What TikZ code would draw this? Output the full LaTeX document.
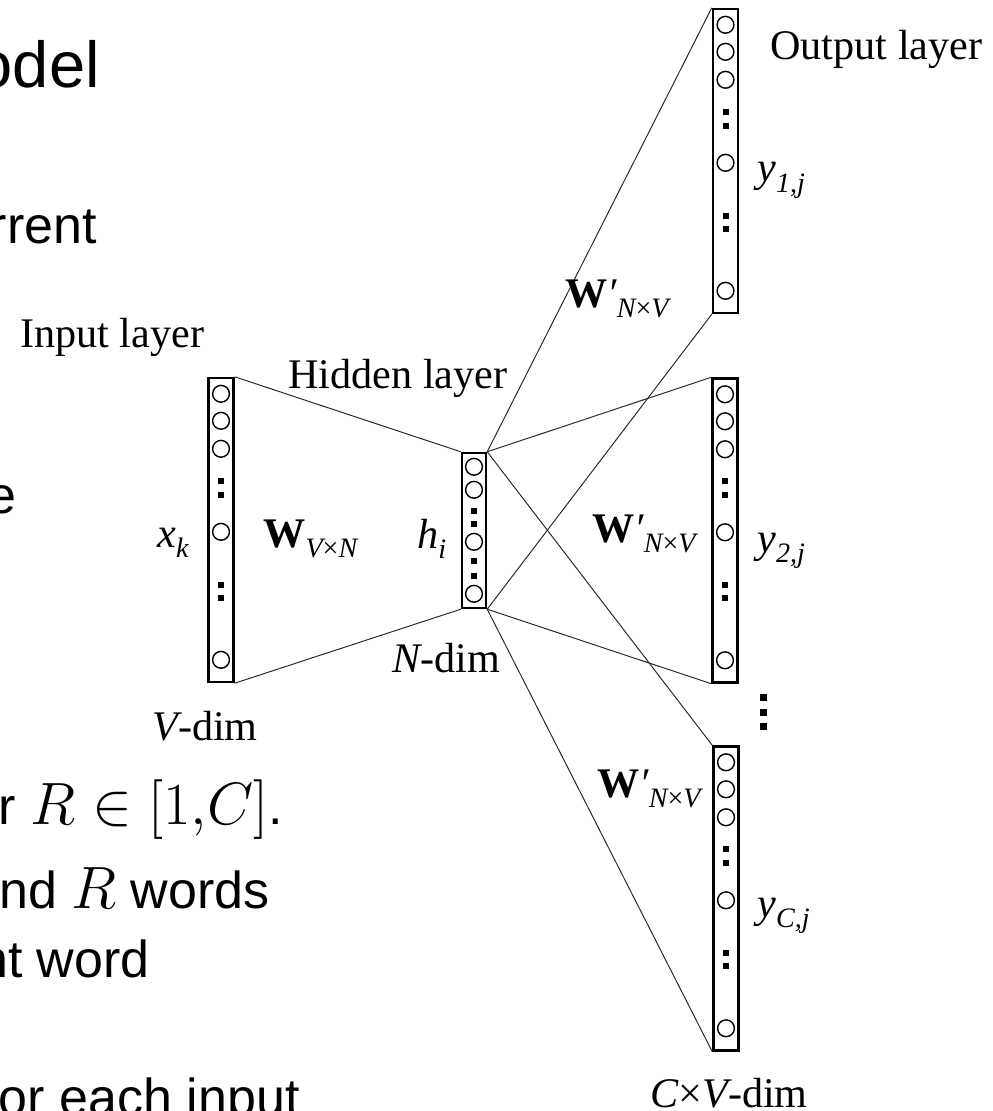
\documentclass[tikz,border=0pt]{standalone}
\usepackage{fix-cm}
\usepackage{fontspec}
\usetikzlibrary{calc}
\newfontfamily\tms{Liberation Serif}
\newfontfamily\arl{Liberation Sans}
\newcommand{\lsub}[1]{\raisebox{-6pt}{\fontsize{16}{18}\selectfont\mdseries\itshape #1}}
\newcommand{\slidemath}[1]{{\fontsize{34}{38}\selectfont$#1$}}

\begin{document}
\begin{tikzpicture}[x=0.02cm,y=-0.02cm,
  layer/.style={draw,line width=1.4pt,inner sep=0,minimum width=0.5cm,minimum height=6.08cm},
  hidden/.style={layer,minimum width=0.48cm,minimum height=3.1cm},
  wire/.style={line width=0.55pt,black!85},
  unit/.style={line width=0.8pt},
  lbl/.style={font=\tms\fontsize{24}{28}\selectfont,inner sep=0,anchor=base west},
  slide/.style={font=\arl\fontsize{29.6}{34}\selectfont,inner sep=0,anchor=base east}]
  \useasboundingbox (0,0) rectangle (992,1111);
  \clip (0,0) rectangle (992,1111);

  % slide text cut off on the left
  \node[slide,font=\arl\fontsize{37}{42}\selectfont] (s1) at (100,88) {odel};
  \node[slide] (s2) at (97,244) {rrent};
  \node[slide] (s3) at (17,513) {e};
  \node[slide] (s4) at (283,824) {r \slidemath{R\in[1{,}C]}.};
  \node[slide] (s5) at (270,908) {nd \slidemath{R} words};
  \node[slide] (s6) at (150,977) {nt word};
  \node[slide] (s7) at (300,1115) {or each input};

  % layers
  \node[layer] (inl) at (221,530) {};
  \node[hidden] (hid) at (474,530.5) {};
  \node[layer] (outa) at (725.5,161) {};
  \node[layer] (outb) at (725,530.5) {};
  \node[layer] (outc) at (726,898.5) {};

  \foreach \n in {inl,outa,outb,outc} {
    \foreach \dy in {17,44,72,155,283}
      \draw[unit] ($(\n.north)+(0,\dy)$) circle [radius=0.168cm];
    \foreach \dy in {104,118,208,221}
      \fill ($(\n.north)+(0,\dy)$) +(-3,-3) rectangle +(3,3);
  }
  \foreach \dy in {15,38,90,142}
    \draw[unit] ($(hid.north)+(0,\dy)$) circle [radius=0.168cm];
  \foreach \dy in {59,72,109,124}
    \fill ($(hid.north)+(0,\dy)$) +(-3,-3) rectangle +(3,3);
  \foreach \dy in {697,712,726}
    \fill (763,\dy) +(-3.5,-3.5) rectangle +(3.5,3.5);

  % weights
  \draw[wire] (inl.north east) -- (hid.north west);
  \draw[wire] (inl.south east) -- (hid.south west);
  \foreach \n in {outa,outb,outc} {
    \draw[wire] (hid.north east) -- (\n.north west);
    \draw[wire] (hid.south east) -- (\n.south west);
  }

  % labels
  \node[lbl] (inlab) at (20,347) {Input layer};
  \node[lbl] (hidlab) at (288,388) {Hidden layer};
  \node[lbl] (outlab) at (770,60) {Output layer};
  \node[lbl] (xk) at (157,547) {\itshape x\lsub{k}};
  \node[lbl] (win) at (263,547) {\bfseries W\lsub{V{\upshape ×}N}};
  \node[lbl] (hi) at (417,548) {\itshape h\lsub{i}};
  \node[lbl] (ndim) at (392,672) {\itshape N\upshape -dim};
  \node[lbl] (vdim) at (152,740) {\itshape V\upshape -dim};
  \node[lbl] (wouta) at (565,307) {\bfseries W\mdseries\itshape ′\lsub{N{\upshape ×}V}};
  \node[lbl] (woutb) at (592,542) {\bfseries W\mdseries\itshape ′\lsub{N{\upshape ×}V}};
  \node[lbl] (woutc) at (597,797) {\bfseries W\mdseries\itshape ′\lsub{N{\upshape ×}V}};
  \node[lbl] (ya) at (757,182) {\itshape y\lsub{1,j}};
  \node[lbl] (yb) at (757,552) {\itshape y\lsub{2,j}};
  \node[lbl] (yc) at (757,917) {\itshape y\lsub{C,j}};
  \node[lbl] (cvdim) at (650,1107) {\itshape C\upshape ×\itshape V\upshape -dim};
\end{tikzpicture}
\end{document}
